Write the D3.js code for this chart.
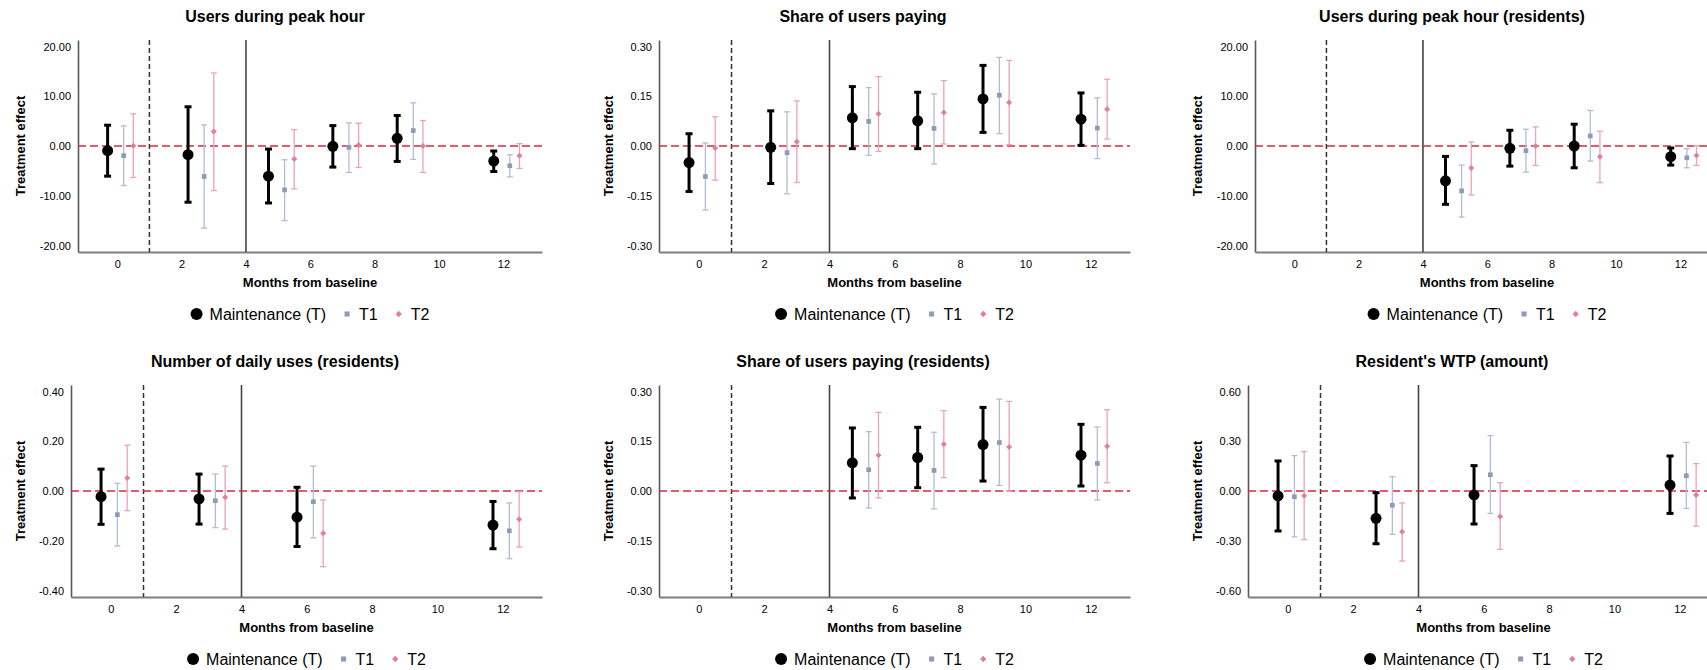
<!DOCTYPE html>
<html>
<head>
<meta charset="utf-8">
<script src="https://cdn.jsdelivr.net/npm/d3@7"></script>
<style>
  body { margin: 0; background: #fff; }
  text { font-family: "Liberation Sans", Arial, sans-serif; fill: #000; }
</style>
</head>
<body>
<svg id="chart" width="1707" height="670"></svg>
<script>
// --- data ---
const monthTicks = [0, 2, 4, 6, 8, 10, 12];
const seriesNames = ["Maintenance (T)", "T1", "T2"];
const seriesShift = [-0.3, 0.2, 0.5];   // horizontal dodge of each series (months)

// survey waves (months) for each group of outcomes
const wavesA = [0, 2.5, 5, 7, 9, 12];
const wavesB = [5, 7, 9, 12];
const wavesC = [0, 3, 6, 12];

const panelTitles = [
  "Users during peak hour",
  "Share of users paying",
  "Users during peak hour (residents)",
  "Number of daily uses (residents)",
  "Share of users paying (residents)",
  "Resident's WTP (amount)"
];
const yTickMax = [20, 0.3, 20, 0.4, 0.3, 0.6];

// [estimate, lower, upper]
const peakT  = [[-0.94, -6.06, 4.18], [-1.75, -11.3, 7.88], [-6.06, -11.45, -0.61], [-0.07, -4.24, 4.1], [1.55, -3.1, 6.13], [-3.03, -5.12, -1.01]];
const peakT1 = [[-1.95, -7.95, 4.04], [-6.13, -16.5, 4.24], [-8.82, -15.0, -2.76], [-0.27, -5.32, 4.65], [3.1, -2.69, 8.69], [-3.97, -6.2, -1.75]];
const peakT2 = [[0.07, -6.33, 6.46], [2.9, -8.96, 14.68], [-2.63, -8.62, 3.3], [0.2, -4.31, 4.58], [0.0, -5.32, 5.12], [-1.95, -4.51, 0.47]];

const payT  = [[-0.050, -0.137, 0.037], [-0.004, -0.113, 0.106], [0.085, -0.008, 0.179], [0.076, -0.008, 0.162], [0.142, 0.041, 0.243], [0.081, 0.002, 0.160]];
const payT1 = [[-0.092, -0.193, 0.009], [-0.020, -0.144, 0.103], [0.074, -0.028, 0.176], [0.053, -0.054, 0.157], [0.153, 0.037, 0.267], [0.054, -0.038, 0.145]];
const payT2 = [[-0.006, -0.103, 0.088], [0.013, -0.110, 0.136], [0.097, -0.016, 0.209], [0.101, 0.006, 0.197], [0.131, 0.004, 0.258], [0.111, 0.021, 0.201]];

const peakResT  = [[-7.0, -11.72, -2.09], [-0.47, -4.04, 3.16], [0.0, -4.38, 4.38], [-2.15, -3.84, -0.40]];
const peakResT1 = [[-9.02, -14.28, -3.84], [-0.94, -5.25, 3.37], [2.02, -3.03, 7.14], [-2.36, -4.38, -0.54]];
const peakResT2 = [[-4.44, -9.83, 0.81], [0.0, -3.91, 3.84], [-2.15, -7.34, 2.96], [-1.89, -3.91, 0.07]];

const usesT  = [[-0.023, -0.134, 0.088], [-0.032, -0.133, 0.068], [-0.105, -0.223, 0.015], [-0.137, -0.232, -0.042]];
const usesT1 = [[-0.095, -0.221, 0.031], [-0.039, -0.147, 0.068], [-0.043, -0.188, 0.100], [-0.160, -0.272, -0.048]];
const usesT2 = [[0.052, -0.079, 0.184], [-0.025, -0.153, 0.100], [-0.170, -0.304, -0.036], [-0.114, -0.225, -0.003]];

const payResT  = [[0.085, -0.021, 0.190], [0.101, 0.010, 0.192], [0.140, 0.030, 0.252], [0.108, 0.015, 0.201]];
const payResT1 = [[0.064, -0.051, 0.179], [0.062, -0.054, 0.177], [0.146, 0.017, 0.277], [0.083, -0.027, 0.193]];
const payResT2 = [[0.108, -0.021, 0.237], [0.141, 0.040, 0.242], [0.133, -0.001, 0.270], [0.135, 0.025, 0.245]];

const wtpT  = [[-0.030, -0.241, 0.181], [-0.165, -0.318, -0.010], [-0.024, -0.199, 0.153], [0.036, -0.135, 0.211]];
const wtpT1 = [[-0.034, -0.277, 0.213], [-0.086, -0.261, 0.086], [0.098, -0.135, 0.334], [0.092, -0.105, 0.293]];
const wtpT2 = [[-0.028, -0.293, 0.237], [-0.245, -0.422, -0.072], [-0.153, -0.352, 0.050], [-0.024, -0.211, 0.165]];

const panelWaves = [wavesA, wavesA, wavesB, wavesC, wavesB, wavesC];
const panelSeries = [
  [peakT, peakT1, peakT2],
  [payT, payT1, payT2],
  [peakResT, peakResT1, peakResT2],
  [usesT, usesT1, usesT2],
  [payResT, payResT1, payResT2],
  [wtpT, wtpT1, wtpT2]
];

// --- style ---
const markColor = ["#000000", "#8e9ab7", "#e07f9b"];
const barColor  = ["#000000", "#b3bcd2", "#eba3b6"];
const barWidth  = [3, 1.3, 1.3];
const capHalf   = [3.5, 3, 3];
const zeroColor = "#d8283f";

const svg = d3.select("#chart");
const fmt = v => d3.format(".2f")(v).replace("\u2212", "-");

const slotRight = [542, 1130, 1719];
const rowTop = [40, 385];
const plotH = 212;

// small marker: square for T1, square turned 45 degrees for T2
function marker(sel, s, size) {
  sel.attr("d", d3.symbol().type(d3.symbolSquare).size(size))
    .attr("fill", markColor[s]);
  return sel;
}

function drawPanel(i) {
  const col = i % 3, row = Math.floor(i / 3);
  const max = yTickMax[i];
  const right = slotRight[col];
  const left = right - (max >= 10 ? 464 : 471);
  const top = rowTop[row], bottom = top + plotH;
  const g = svg.append("g");

  const x = d3.scaleLinear().domain([-1.22, 13.2]).range([left, right]);
  const y = d3.scaleLinear().domain([-max * 1.065, max * 1.065]).range([bottom, top]);

  // title
  g.append("text")
    .attr("x", right - 267).attr("y", top - 18)
    .attr("text-anchor", "middle")
    .style("font-size", "16px").style("font-weight", "bold")
    .text(panelTitles[i]);

  // axes
  const yAxis = g.append("g")
    .attr("transform", `translate(${left},0)`)
    .call(d3.axisLeft(y).tickValues([-max, -max / 2, 0, max / 2, max]).tickFormat(fmt)
      .tickSize(0).tickPadding(7));
  yAxis.select(".domain").attr("stroke", "#595959").attr("stroke-width", 1.6);
  yAxis.selectAll("text").style("font-size", "11px").attr("fill", "#111");

  const xAxis = g.append("g")
    .attr("transform", `translate(0,${bottom})`)
    .call(d3.axisBottom(x).tickValues(monthTicks).tickFormat(d3.format("d"))
      .tickSize(0).tickPadding(8));
  xAxis.select(".domain").attr("stroke", "#7f7f7f").attr("stroke-width", 2);
  xAxis.selectAll("text").style("font-size", "11px").attr("fill", "#111");

  g.append("text")
    .attr("x", (left + right) / 2).attr("y", bottom + 35)
    .attr("text-anchor", "middle")
    .style("font-size", "13px").style("font-weight", "bold")
    .text("Months from baseline");

  g.append("text")
    .attr("transform", `translate(${right - 522},${(top + bottom) / 2}) rotate(-90)`)
    .attr("text-anchor", "middle").attr("dy", "0.35em")
    .style("font-size", "13px").style("font-weight", "bold")
    .text("Treatment effect");

  // reference lines
  g.append("line")
    .attr("x1", x(1)).attr("x2", x(1)).attr("y1", top).attr("y2", bottom)
    .attr("stroke", "#333").attr("stroke-width", 1.5).attr("stroke-dasharray", "5,3");
  g.append("line")
    .attr("x1", x(4)).attr("x2", x(4)).attr("y1", top).attr("y2", bottom)
    .attr("stroke", "#444").attr("stroke-width", 1.6);
  g.append("line")
    .attr("x1", left).attr("x2", right).attr("y1", y(0)).attr("y2", y(0))
    .attr("stroke", zeroColor).attr("stroke-width", 1.5).attr("stroke-dasharray", "8,4");

  // error bars + markers, drawn series by series
  panelSeries[i].forEach((data, s) => {
    const pts = data.map((d, k) => ({ m: panelWaves[i][k] + seriesShift[s], est: d[0], lo: d[1], hi: d[2] }));
    const sg = g.append("g");
    const bars = sg.selectAll(".bar").data(pts).enter().append("g");
    bars.append("line")
      .attr("x1", d => x(d.m)).attr("x2", d => x(d.m))
      .attr("y1", d => y(d.lo)).attr("y2", d => y(d.hi))
      .attr("stroke", barColor[s]).attr("stroke-width", barWidth[s]);
    ["lo", "hi"].forEach(key => {
      bars.append("line")
        .attr("x1", d => x(d.m) - capHalf[s]).attr("x2", d => x(d.m) + capHalf[s])
        .attr("y1", d => y(d[key])).attr("y2", d => y(d[key]))
        .attr("stroke", barColor[s]).attr("stroke-width", barWidth[s]);
    });
    if (s === 0) {
      sg.selectAll(".pt").data(pts).enter().append("circle")
        .attr("cx", d => x(d.m)).attr("cy", d => y(d.est)).attr("r", 5.5)
        .attr("fill", markColor[s]);
    } else {
      marker(sg.selectAll(".pt").data(pts).enter().append("path"), s, s === 1 ? 22 : 18)
        .attr("transform", d => `translate(${x(d.m)},${y(d.est)})` + (s === 2 ? " rotate(45)" : ""));
    }
  });

  // legend
  const lg = g.append("g");
  let cx = 0;
  seriesNames.forEach((name, s) => {
    let tx;
    if (s === 0) {
      lg.append("circle").attr("cx", cx + 6).attr("cy", 0).attr("r", 6).attr("fill", markColor[s]);
      tx = cx + 19;
    } else {
      marker(lg.append("path"), s, s === 1 ? 26 : 20)
        .attr("transform", `translate(${cx + 3},0)` + (s === 2 ? " rotate(45)" : ""));
      tx = cx + 15;
    }
    const t = lg.append("text").attr("x", tx).attr("y", 0).attr("dy", "0.35em")
      .style("font-size", "16px").attr("fill", "#111").text(name);
    cx = tx + t.node().getComputedTextLength() + 18;
  });
  const lw = cx - 18;
  lg.attr("transform", `translate(${(left + right) / 2 - lw / 2},${bottom + 62})`);
}

d3.range(6).forEach(drawPanel);
</script>
</body>
</html>
